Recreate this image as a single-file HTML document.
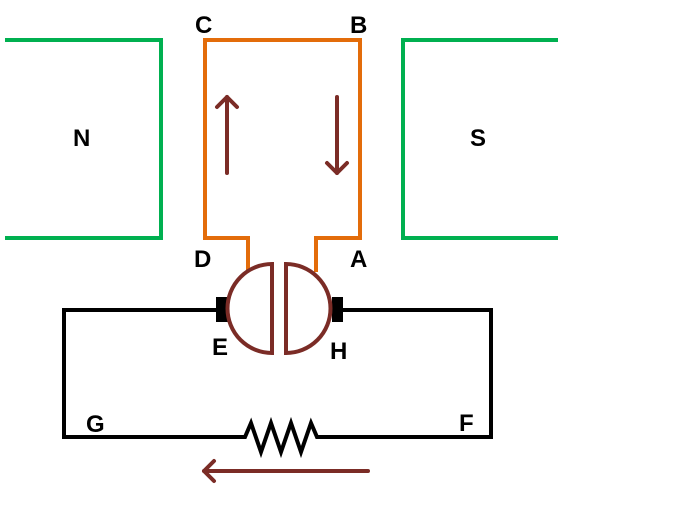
<!DOCTYPE html>
<html><head><meta charset="utf-8"><style>
html,body{margin:0;padding:0;background:#fff;width:694px;height:522px;overflow:hidden}
text{font-family:"Liberation Sans",Arial,sans-serif;font-weight:bold;font-size:24px;fill:#000}
</style></head><body>
<svg width="694" height="522" viewBox="0 0 694 522" xmlns="http://www.w3.org/2000/svg">
<g fill="none" stroke="#00b050" stroke-width="4">
<polyline points="5,40 161,40 161,238 5,238"/>
<polyline points="558,40 403,40 403,238 558,238"/>
</g>
<g fill="none" stroke="#e36c0a" stroke-width="4">
<polyline points="248,270 248,238 205,238 205,40 360,40 360,238 316,238 316,272"/>
</g>
<g fill="none" stroke="#000" stroke-width="4">
<polyline points="216,310 64,310 64,437 245,437 251,423 261,452 271,423 281,452 291,423 301,452 311,423 317,437 491,437 491,310 343,310"/>
</g>
<rect x="216" y="297" width="12" height="25" fill="#000"/>
<rect x="332" y="297" width="11" height="25" fill="#000"/>
<g fill="#fff" stroke="#7b2c26" stroke-width="4">
<path d="M272,264 L272,353 A44,44 0 0 1 272,264 Z"/>
<path d="M286,264 L286,353 A44,44 0 0 0 286,264 Z"/>
</g>
<g fill="none" stroke="#7b2c26" stroke-width="4" stroke-linecap="round" stroke-linejoin="round">
<line x1="227" y1="173" x2="227" y2="97"/>
<polyline points="217,107 227,97 237,107"/>
<line x1="337" y1="97" x2="337" y2="173"/>
<polyline points="327,163 337,173 347,163"/>
<line x1="368" y1="471" x2="204" y2="471"/>
<polyline points="214,461 204,471 214,481"/>
</g>
<text x="195" y="33">C</text>
<text x="350" y="33">B</text>
<text x="73" y="146">N</text>
<text x="470" y="146">S</text>
<text x="194" y="267">D</text>
<text x="350" y="267">A</text>
<text x="212" y="355">E</text>
<text x="330" y="359">H</text>
<text x="86" y="432">G</text>
<text x="459" y="431">F</text>
</svg>
</body></html>
